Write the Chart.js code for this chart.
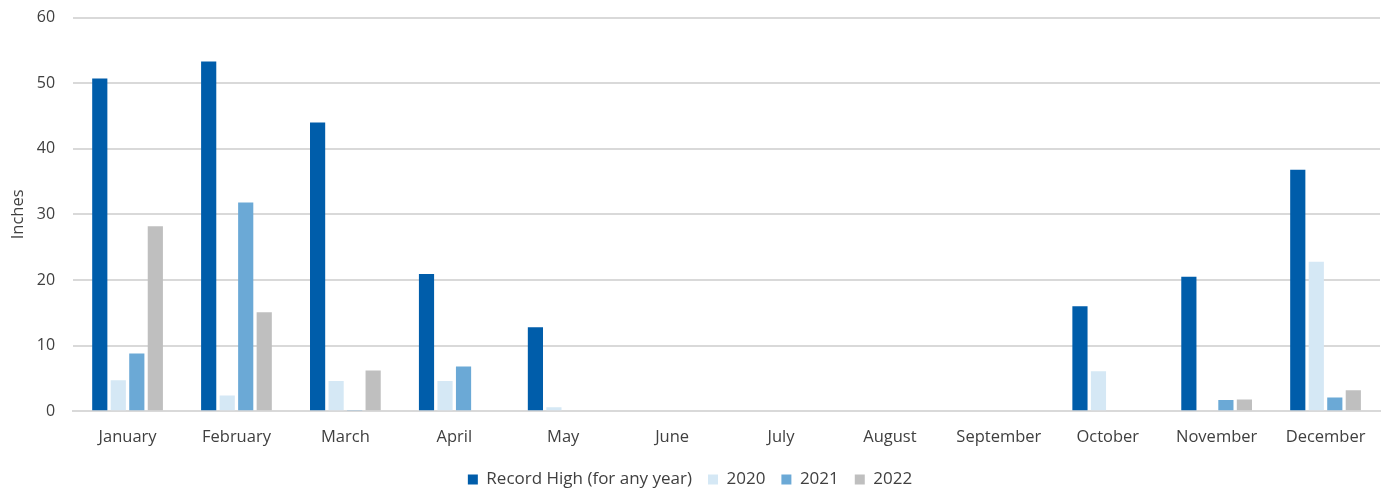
<!DOCTYPE html>
<html>
<head>
<meta charset="utf-8">
<script src="https://cdn.jsdelivr.net/npm/chart.js@4/dist/chart.umd.min.js"></script>
<style>
  html, body { margin: 0; padding: 0; background: #fff; overflow: hidden; }
  #wrap { width: 1381px; height: 499px; position: relative; margin-top: -10px; }
</style>
</head>
<body>
<div id="wrap"><canvas id="snow-chart"></canvas></div>
<script>
// snowfall by month, inches
const months = ["January", "February", "March", "April", "May", "June", "July",
    "August", "September", "October", "November", "December"];
const recordHigh = [50.7, 53.3, 44.0, 20.9, 12.8, 0, 0, 0, 0, 16.0, 20.5, 36.8];
const y2020 = [4.7, 2.4, 4.6, 4.6, 0.6, 0, 0, 0, 0, 6.1, 0, 22.8];
const y2021 = [8.8, 31.8, 0.2, 6.8, 0, 0, 0, 0, 0, 0, 1.7, 2.1];
const y2022 = [28.2, 15.1, 6.2, 0, 0, 0, 0, 0, 0, 0, 1.8, 3.2];

Chart.defaults.font.family = "'Open Sans', 'Noto Sans', sans-serif";
Chart.defaults.color = '#404040';

// wider gaps between legend items without making the legend taller
const legendTrim = {
    id: 'legendTrim',
    afterInit: function (chart) {
        const fit = chart.legend.fit;
        chart.legend.fit = function () {
            fit.call(this);
            this.height -= 7;
        };
    }
};

new Chart(document.getElementById("snow-chart"), {
    type: 'bar',
    data: {
        labels: months,
        datasets: [
            { label: "Record High (for any year)", data: recordHigh, backgroundColor: "#005DAA" },
            { label: "2020", data: y2020, backgroundColor: "#D5E8F5" },
            { label: "2021", data: y2021, backgroundColor: "#6BA9D6" },
            { label: "2022", data: y2022, backgroundColor: "#BFBFBF" }
        ]
    },
    options: {
        responsive: true,
        maintainAspectRatio: false,
        animation: false,
        datasets: {
            bar: { categoryPercentage: 0.68, barPercentage: 0.82 }
        },
        layout: { padding: { left: 0, right: 1, top: 0, bottom: -2 } },
        scales: {
            x: {
                grid: { display: false },
                border: { color: '#D9D9D9', width: 2 },
                ticks: { font: { size: 16.5 }, padding: 8 }
            },
            y: {
                min: 0,
                max: 60,
                ticks: { stepSize: 10, font: { size: 16 }, padding: 18 },
                grid: { color: '#D9D9D9', lineWidth: 2, drawTicks: false },
                border: { display: false },
                title: { display: true, text: 'Inches', font: { size: 16.5 }, padding: { top: 8, bottom: -9 } }
            }
        },
        plugins: {
            legend: {
                position: 'bottom',
                labels: { boxWidth: 10, boxHeight: 10, font: { size: 17 }, padding: 16 }
            },
            tooltip: { enabled: false }
        }
    },
    plugins: [legendTrim]
});
</script>
</body>
</html>
